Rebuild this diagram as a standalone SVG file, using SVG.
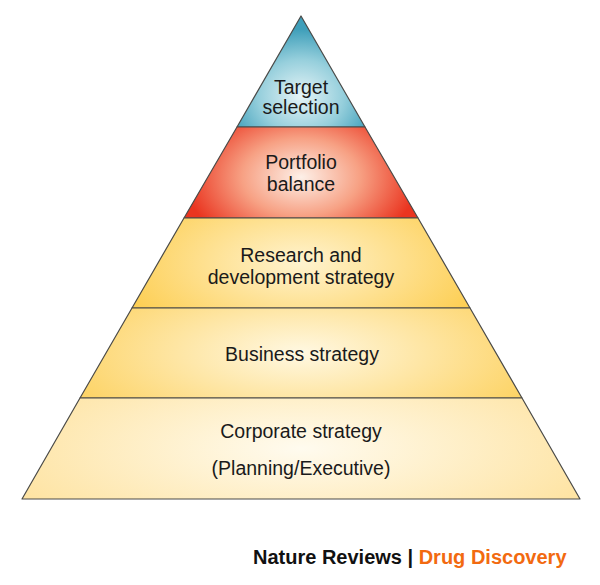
<svg xmlns="http://www.w3.org/2000/svg" width="600" height="585" viewBox="0 0 600 585">
<style>
.t{font-family:"Liberation Sans",Arial,sans-serif;font-size:19.5px;fill:#1a1a1a;text-anchor:middle}
.s{stroke:#4a4a48;stroke-width:1.2;stroke-linejoin:round}
.f{font-family:"Liberation Sans",Arial,sans-serif;font-size:20px;font-weight:bold}
</style>
<defs>
<radialGradient id="gBlue" cx="0.5" cy="0.72" r="0.6">
<stop offset="0" stop-color="#e6f4f7"/><stop offset="0.55" stop-color="#96cfdc"/><stop offset="1" stop-color="#3f9fba"/>
</radialGradient>
<radialGradient id="gRed" cx="0.5" cy="0.55" r="0.5" gradientTransform="translate(0.5 0.55) scale(1 1.7) translate(-0.5 -0.55)">
<stop offset="0" stop-color="#fdf0e8"/><stop offset="0.5" stop-color="#f7a184"/><stop offset="1" stop-color="#ea3520"/>
</radialGradient>
<radialGradient id="gY1" cx="0.5" cy="0.5" r="0.55" gradientTransform="translate(0.5 0.5) scale(1 1.8) translate(-0.5 -0.5)">
<stop offset="0" stop-color="#fff3cf"/><stop offset="1" stop-color="#fdcf55"/>
</radialGradient>
<radialGradient id="gY2" cx="0.5" cy="0.5" r="0.55" gradientTransform="translate(0.5 0.5) scale(1 1.8) translate(-0.5 -0.5)">
<stop offset="0" stop-color="#fff8e2"/><stop offset="1" stop-color="#fdd468"/>
</radialGradient>
<radialGradient id="gY3" cx="0.5" cy="0.5" r="0.55" gradientTransform="translate(0.5 0.5) scale(1 1.8) translate(-0.5 -0.5)">
<stop offset="0" stop-color="#fffbef"/><stop offset="1" stop-color="#fee4a4"/>
</radialGradient>
</defs>
<g id="layer-target">
<polygon class="s" points="301,16 365,127 237,127" fill="url(#gBlue)"/>
<text class="t" x="301" y="94">Target</text>
<text class="t" x="301" y="114">selection</text>
</g>
<g id="layer-portfolio">
<polygon class="s" points="237,127 365,127 418,218 184,218" fill="url(#gRed)"/>
<text class="t" x="301" y="169">Portfolio</text>
<text class="t" x="301" y="191">balance</text>
</g>
<g id="layer-rnd">
<polygon class="s" points="184,218 418,218 470,308 132,308" fill="url(#gY1)"/>
<text class="t" x="301" y="262">Research and</text>
<text class="t" x="301" y="284">development strategy</text>
</g>
<g id="layer-business">
<polygon class="s" points="132,308 470,308 522,398 80,398" fill="url(#gY2)"/>
<text class="t" x="302" y="361">Business strategy</text>
</g>
<g id="layer-corporate">
<polygon class="s" points="80,398 522,398 580,499 22,499" fill="url(#gY3)"/>
<text class="t" x="301" y="438">Corporate strategy</text>
<text class="t" x="301" y="475">(Planning/Executive)</text>
</g>
<text class="f" x="253" y="564" fill="#111">Nature Reviews | <tspan fill="#f26a10">Drug Discovery</tspan></text>
</svg>
